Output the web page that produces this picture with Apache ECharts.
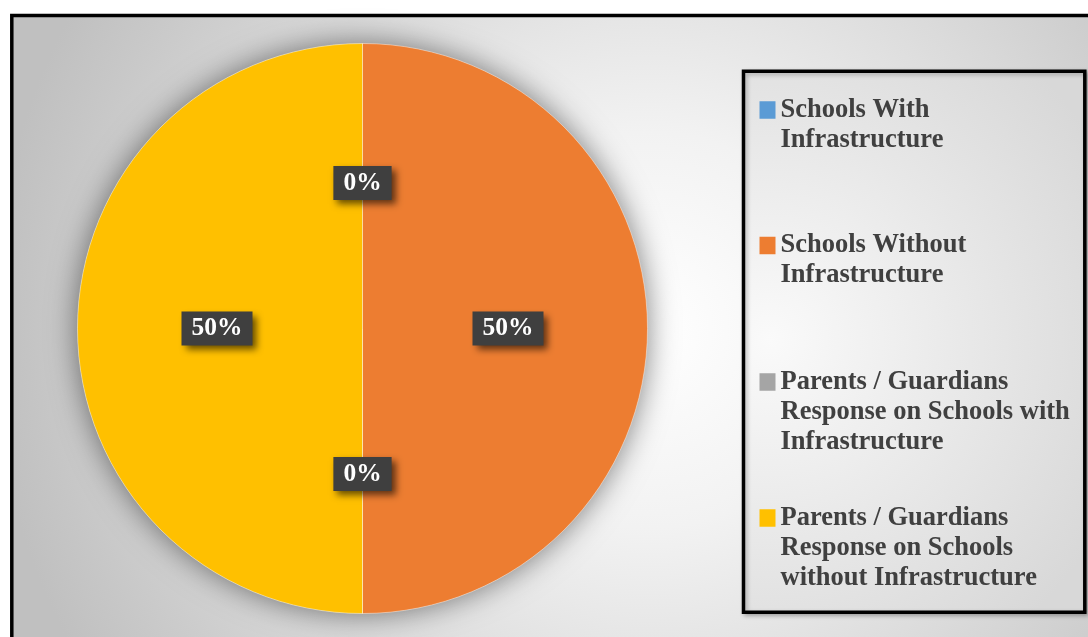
<!DOCTYPE html>
<html>
<head>
<meta charset="utf-8">
<title>Schools and Parents / Guardians Response on Infrastructure</title>
<script src="https://cdn.jsdelivr.net/npm/echarts@6/dist/echarts.min.js"></script>
<style>
  html, body { margin: 0; padding: 0; background: #ffffff; }
  #chart { width: 1088px; height: 637px; }
</style>
</head>
<body>
<div id="chart"></div>
<script>
// Slice names, legend wording and shares (percent)
const categories = [
  'Schools With Infrastructure',
  'Schools Without Infrastructure',
  'Parents / Guardians Response on Schools with Infrastructure',
  'Parents / Guardians Response on Schools without Infrastructure'
];
const legendLines = [
  ['Schools With', 'Infrastructure'],
  ['Schools Without', 'Infrastructure'],
  ['Parents / Guardians', 'Response on Schools with', 'Infrastructure'],
  ['Parents / Guardians', 'Response on Schools', 'without Infrastructure']
];
const shares = [0, 50, 0, 50];
const colors = ['#5B9BD5', '#ED7D31', '#A5A5A5', '#FFC000'];

const SERIF = "'Times New Roman', 'Liberation Serif', serif";
const PIE_CENTER = [362.5, 328.5];
const PIE_RADIUS = 285;

// One legend block per entry; blank lines above the text keep the swatch
// level with the first line of a wrapped entry.
const LINE_H = 30;
const firstLineY = [110, 245.5, 382, 518];
const legends = categories.map((name, i) => {
  const n = legendLines[i].length;
  return {
    data: [name],
    left: 759.5,
    top: firstLineY[i] - (LINE_H / 2) * (2 * n - 1),
    orient: 'vertical',
    padding: 0,
    itemGap: 0,
    itemWidth: 16,
    itemHeight: 17.5,
    icon: 'rect',
    itemStyle: { borderWidth: 0 },
    selectedMode: false,
    formatter: nm => {
      const lines = legendLines[categories.indexOf(nm)];
      return new Array(lines.length).join('\n') + lines.join('\n');
    },
    textStyle: {
      fontFamily: SERIF,
      fontWeight: 'bold',
      fontSize: 26.5,
      lineHeight: LINE_H,
      color: '#404040'
    }
  };
});

const chart = echarts.init(document.getElementById('chart'), null, { renderer: 'canvas' });

chart.setOption({
  animation: false,
  color: colors,
  graphic: [
    {
      // chart area: radial grey fill with black frame
      type: 'rect',
      z: -10,
      shape: { x: 11.8, y: 15.5, width: 1200, height: 800 },
      style: {
        fill: new echarts.graphic.RadialGradient(650, 330, 660, [
          { offset: 0, color: '#ffffff' },
          { offset: 0.3, color: '#f2f2f2' },
          { offset: 1, color: '#c0c0c0' }
        ], true),
        stroke: '#000000',
        lineWidth: 3.5
      }
    },
    {
      // legend panel
      type: 'rect',
      z: -5,
      shape: { x: 743.5, y: 71.3, width: 341.3, height: 541 },
      style: {
        fill: new echarts.graphic.RadialGradient(770, 340, 380, [
          { offset: 0, color: '#fafafa' },
          { offset: 1, color: '#d8d8d8' }
        ], true),
        stroke: '#000000',
        lineWidth: 3.5,
        shadowColor: 'rgba(0,0,0,0.25)',
        shadowBlur: 4,
        shadowOffsetX: 2,
        shadowOffsetY: 2
      }
    }
  ],
  legend: legends,
  series: [
    {
      // soft drop shadow under the whole pie
      name: '',
      type: 'pie',
      silent: true,
      z: 1,
      center: PIE_CENTER,
      radius: PIE_RADIUS,
      label: { show: false },
      labelLine: { show: false },
      itemStyle: {
        color: '#c8c8c8',
        shadowColor: 'rgba(0,0,0,0.5)',
        shadowBlur: 30
      },
      data: [{ name: '__disc', value: 1 }]
    },
    {
      type: 'pie',
      z: 2,
      center: PIE_CENTER,
      radius: PIE_RADIUS,
      startAngle: 90,
      clockwise: true,
      minShowLabelAngle: 0,
      emphasis: { disabled: true },
      itemStyle: {
        borderColor: 'rgba(255,255,255,0.5)',
        borderWidth: 0.8
      },
      labelLine: { show: false },
      label: {
        show: true,
        position: 'inside',
        formatter: '{c}%',
        color: '#ffffff',
        fontFamily: SERIF,
        fontWeight: 'bold',
        fontSize: 25.5,
        lineHeight: 26,
        padding: [4, 10, 4, 10],
        backgroundColor: '#3f3f3f',
        shadowColor: 'rgba(0,0,0,0.6)',
        shadowBlur: 7,
        shadowOffsetX: 4,
        shadowOffsetY: 4
      },
      data: categories.map((name, i) => ({ name: name, value: shares[i] }))
    }
  ]
});
</script>
</body>
</html>
